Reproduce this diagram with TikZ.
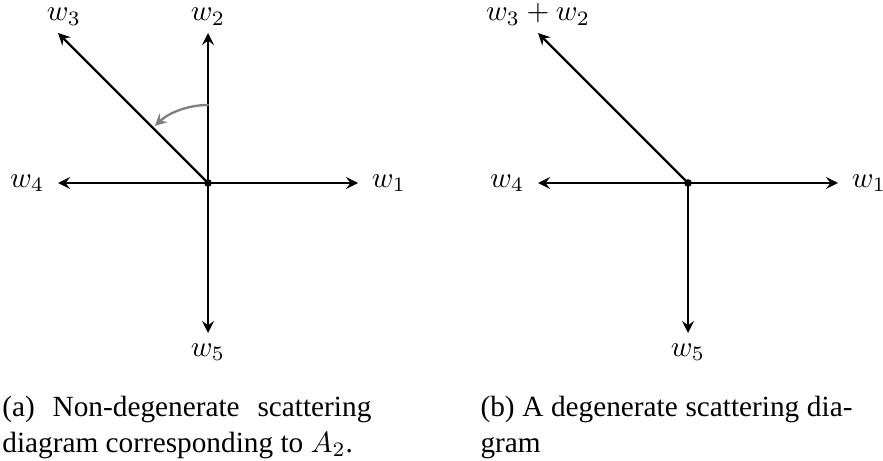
\documentclass[tikz,border=0pt]{standalone}
\usepackage{fontspec}
\setmainfont{Liberation Serif}
\tikzset{ray/.style={thick,->}, turn/.style={thick,gray,->},
  captext/.style={anchor=north west,inner sep=0pt,align=justify}}
\begin{document}
\begin{tikzpicture}[x=1.8cm,y=1.8cm,line cap=round,line join=round,>=stealth]
  \useasboundingbox (-1.387,1.22) rectangle (4.5,-1.853);
  % (a) non-degenerate
  \coordinate (oa) at (0,0);
  \draw[ray] (oa) -- (1,0) node[right=1pt] (a1) {$w_1$};
  \draw[ray] (oa) -- (0,1) node[above=-1pt] (a2) {$w_2$};
  \draw[ray] (oa) -- (-1,1) node[above=-1pt,xshift=2pt] (a3) {$w_3$};
  \draw[ray] (oa) -- (-1,0) node[left=1pt] (a4) {$w_4$};
  \draw[ray] (oa) -- (0,-1) node[below=0pt] (a5) {$w_5$};
  \fill (oa) circle (1.3pt);
  \draw[turn] (90:0.52) arc (90:133:0.52);
  % (b) degenerate
  \coordinate (ob) at (3.2,0);
  \draw[ray] (ob) -- ++(1,0) node[right=1pt] (b1) {$w_1$};
  \draw[ray] (ob) -- ++(-1,1) node[above=-1pt] (b3) {$w_3+w_2$};
  \draw[ray] (ob) -- ++(-1,0) node[left=1pt] (b4) {$w_4$};
  \draw[ray] (ob) -- ++(0,-1) node[below=0pt] (b5) {$w_5$};
  \fill (ob) circle (1.3pt);
  \node[captext,text width=126pt] (capa) at (-1.375,-1.42) {(a) Non-degenerate scattering\linebreak diagram corresponding to $A_2$.};
  \node[captext,text width=127pt] (capb) at (1.813,-1.42) {(b) A degenerate scattering dia-\linebreak gram};
\end{tikzpicture}
\end{document}
